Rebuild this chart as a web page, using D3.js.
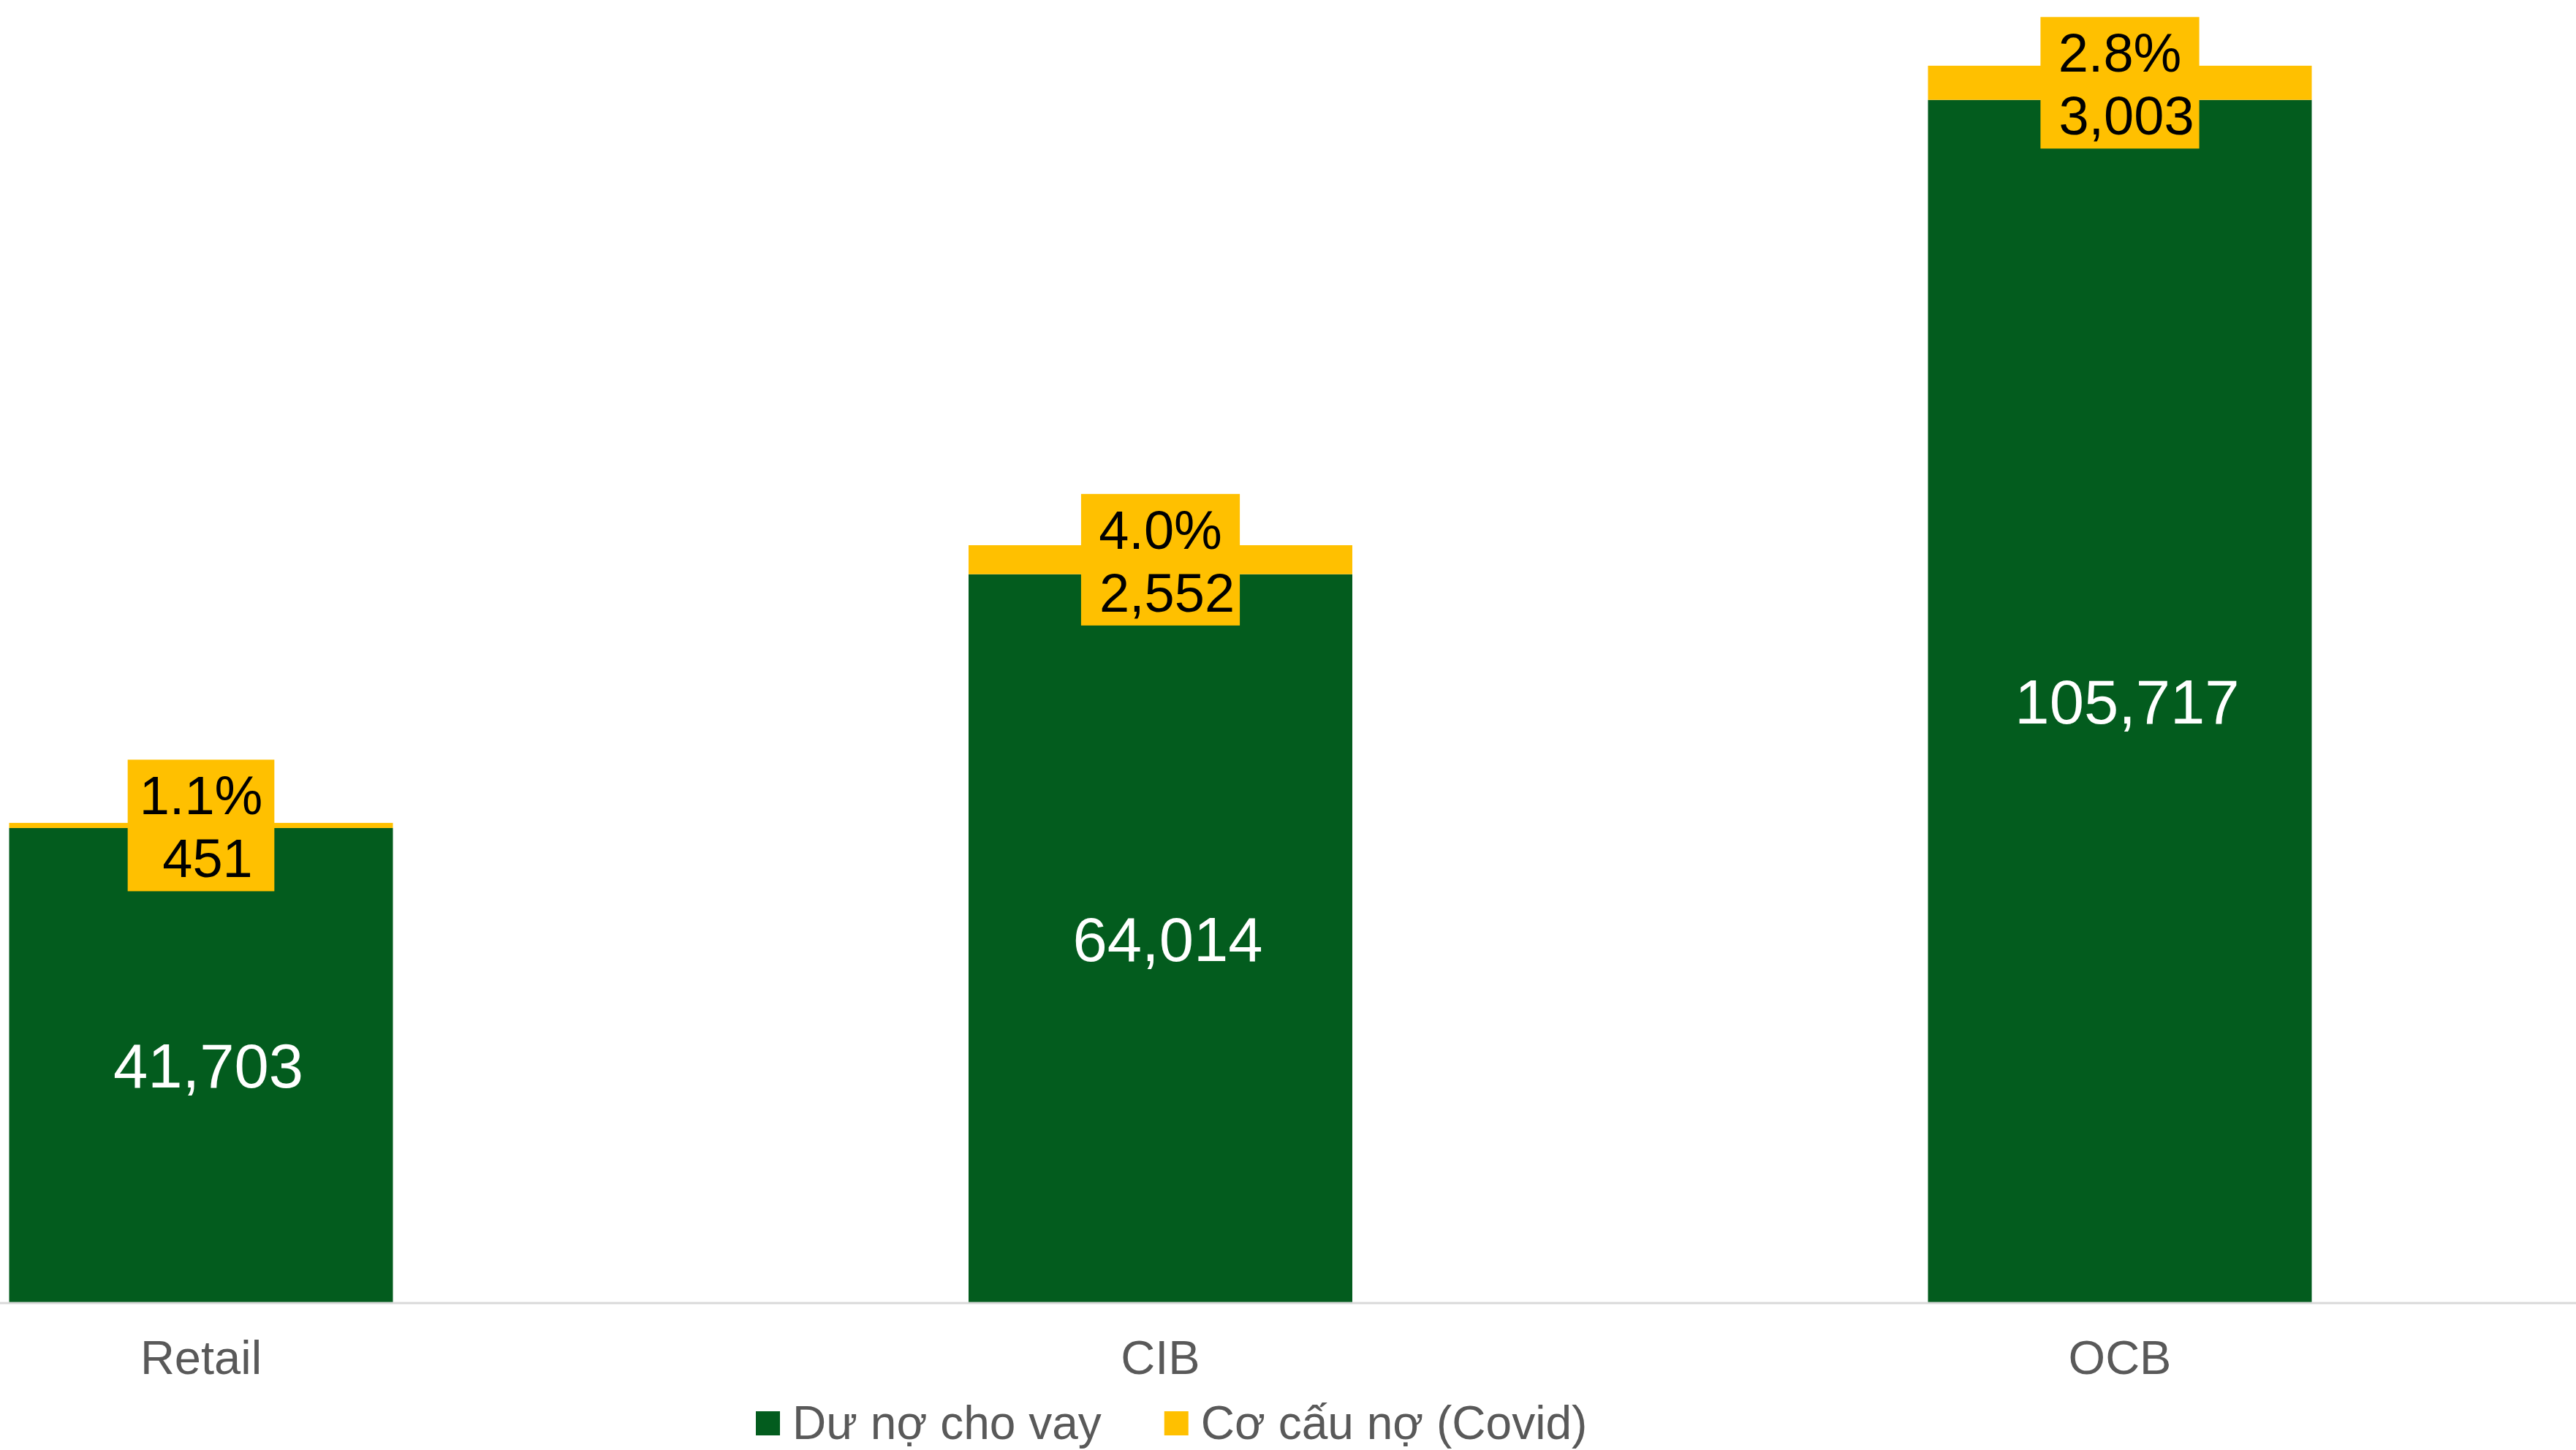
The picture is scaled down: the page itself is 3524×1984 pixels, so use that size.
<!DOCTYPE html>
<html>
<head>
<meta charset="utf-8">
<script src="https://cdn.jsdelivr.net/npm/d3@7"></script>
<style>
  html, body { margin: 0; padding: 0; background: #ffffff; }
  svg { display: block; font-family: "Liberation Sans", Arial, sans-serif; }
</style>
</head>
<body>
<svg id="chart" width="3524" height="1984"></svg>
<script>
// ---- data ----
const categories = ["Retail", "CIB", "OCB"];
const loanValues = [41703, 64014, 105717];        // Dư nợ cho vay
const restructValues = [451, 2552, 3003];         // Cơ cấu nợ (Covid)
const pctLabels = ["1.1%", "4.0%", "2.8%"];
const seriesNames = ["Dư nợ cho vay", "Cơ cấu nợ (Covid)"];

// ---- styles ----
const GREEN = "#035C1E";
const YELLOW = "#FFC000";
const W = 3524, H = 1984;

const svg = d3.select("#chart");

const x = d3.scaleBand()
  .domain(categories)
  .range([-381.25, 3556.25])
  .paddingInner(0.6)
  .paddingOuter(0.3);

const y = d3.scaleLinear()
  .domain([0, 110000])
  .range([1782, 70]);

const rows = categories.map((c, i) => ({
  cat: c, loan: loanValues[i], rs: restructValues[i], pct: pctLabels[i]
}));

// green bars
svg.append("g").selectAll("rect").data(rows).join("rect")
  .attr("x", d => x(d.cat))
  .attr("width", x.bandwidth())
  .attr("y", d => y(d.loan))
  .attr("height", d => y(0) - y(d.loan))
  .attr("fill", GREEN);

// yellow bars stacked
svg.append("g").selectAll("rect").data(rows).join("rect")
  .attr("x", d => x(d.cat))
  .attr("width", x.bandwidth())
  .attr("y", d => y(d.loan + d.rs))
  .attr("height", d => y(d.loan) - y(d.loan + d.rs))
  .attr("fill", YELLOW);

// axis line
svg.append("line")
  .attr("x1", 0).attr("x2", W)
  .attr("y1", y(0) + 1).attr("y2", y(0) + 1)
  .attr("stroke", "#d9d9d9").attr("stroke-width", 3);

// category axis
const xAxis = d3.axisBottom(x).tickSize(0).tickPadding(0);
const gx = svg.append("g").attr("transform", `translate(0, ${y(0)})`).call(xAxis);
gx.select(".domain").remove();
gx.selectAll("text")
  .attr("y", 98)
  .attr("dy", 0)
  .attr("font-size", 65)
  .attr("font-family", "'Liberation Sans', Arial, sans-serif")
  .attr("fill", "#595959");

// white value labels inside green bars
svg.append("g").selectAll("text").data(rows).join("text")
  .attr("x", d => x(d.cat) + x.bandwidth() / 2 + 10)
  .attr("y", d => (y(d.loan) + y(0)) / 2 + 31)
  .attr("text-anchor", "middle")
  .attr("font-size", 85)
  .attr("fill", "#ffffff")
  .text(d => d3.format(",")(d.loan));

// yellow label boxes
const lblG = svg.append("g").selectAll("g").data(rows).join("g")
  .attr("transform", d => `translate(${x(d.cat) + x.bandwidth() / 2}, ${(y(d.loan) + y(d.loan + d.rs)) / 2})`);

lblG.append("rect").attr("fill", YELLOW);
lblG.append("text")
  .attr("text-anchor", "middle").attr("font-size", 74).attr("fill", "#000")
  .attr("y", -15).text(d => d.pct);
lblG.append("text")
  .attr("text-anchor", "middle").attr("font-size", 74).attr("fill", "#000")
  .attr("x", 9).attr("y", 71).text(d => d3.format(",")(d.rs));

lblG.each(function() {
  const g = d3.select(this);
  const texts = g.selectAll("text").nodes();
  const wmax = Math.max(...texts.map(n => n.getComputedTextLength()));
  const bw = wmax + 32;
  g.select("rect")
    .attr("x", -bw / 2).attr("width", bw)
    .attr("y", -90).attr("height", 180);
});

// legend
const legend = svg.append("g").attr("transform", "translate(1034, 1931)");
const colors = [GREEN, YELLOW];
let lx = 0;
seriesNames.forEach((name, i) => {
  const g = legend.append("g").attr("transform", `translate(${lx},0)`);
  g.append("rect").attr("width", 33).attr("height", 33).attr("fill", colors[i]);
  const t = g.append("text")
    .attr("x", 50).attr("y", 38)
    .attr("font-size", 64).attr("fill", "#595959")
    .text(name);
  lx += 50 + t.node().getComputedTextLength() + 86;
});
</script>
</body>
</html>
